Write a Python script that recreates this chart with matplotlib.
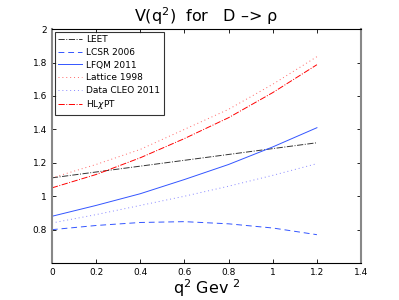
import numpy as np
import matplotlib
matplotlib.use("Agg")
import matplotlib.pyplot as plt

q2 = [0.0, 0.2, 0.4, 0.6, 0.8, 1.0, 1.2]

leet = [1.11, 1.145, 1.18, 1.215, 1.25, 1.285, 1.32]
lcsr = [0.80, 0.825, 0.843, 0.848, 0.835, 0.81, 0.77]
lfqm = [0.88, 0.945, 1.015, 1.10, 1.19, 1.295, 1.41]
lattice = [1.11, 1.19, 1.28, 1.40, 1.52, 1.67, 1.835]
cleo = [0.84, 0.89, 0.945, 1.0, 1.06, 1.125, 1.195]
hlxpt = [1.05, 1.13, 1.23, 1.345, 1.47, 1.62, 1.787]

fig = plt.figure(figsize=(3.99, 3.0), dpi=100)
ax = fig.add_axes([0.13, 0.123, 0.775, 0.78])

lw = 0.7
ax.plot(q2, leet, color='#333333', ls='-.', lw=lw, label='LEET')
ax.plot(q2, lcsr, color='#3355ff', ls=(0, (6, 4)), lw=lw, label='LCSR 2006')
ax.plot(q2, lfqm, color='#3355ff', ls='-', lw=lw, label='LFQM 2011')
ax.plot(q2, lattice, color='#ff6666', ls=(0, (1, 3)), lw=lw, label='Lattice 1998')
ax.plot(q2, cleo, color='#8888ff', ls=(0, (1, 3)), lw=lw, label='Data CLEO 2011')
ax.plot(q2, hlxpt, color='r', ls='-.', lw=lw, label=r'HL$\chi$PT')

ax.set_xlim(0, 1.4)
ax.set_ylim(0.6, 2.0)
ax.set_xticks(np.arange(0, 1.41, 0.2))
ax.set_xticklabels(['0', '0.2', '0.4', '0.6', '0.8', '1', '1.2', '1.4'])
ax.set_yticks([0.8, 1.0, 1.2, 1.4, 1.6, 1.8, 2.0])
ax.set_yticklabels(['0.8', '1', '1.2', '1.4', '1.6', '1.8', '2'])
ax.tick_params(direction='in', top=True, right=True, labelsize=6.5, length=3, width=0.6)
for s in ['top', 'bottom']:
    ax.spines[s].set_linewidth(0.8)
for s in ['left', 'right']:
    ax.spines[s].set_color('#888888')
    ax.spines[s].set_linewidth(1.5)

ax.set_title('V(q$^2$)  for   D \u2013> \u03c1', fontsize=11.5, pad=5)
ax.set_xlabel('q$^2$ Gev $^2$', fontsize=11.5, labelpad=0)

leg = ax.legend(loc='upper left', fontsize=6.5, frameon=True, fancybox=False,
                edgecolor='k', handlelength=2.6, borderpad=0.4, labelspacing=0.4,
                borderaxespad=0.3, handletextpad=0.5)
leg.get_frame().set_linewidth(0.8)

fig.savefig('out.png', dpi=100)
